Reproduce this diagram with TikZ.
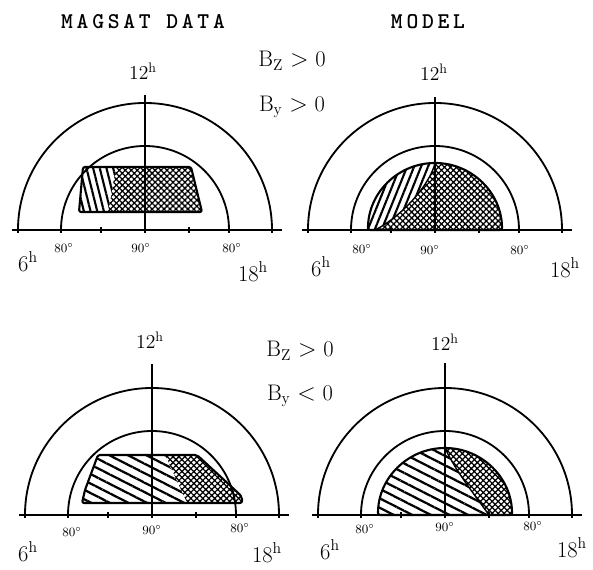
\documentclass[tikz,border=0pt]{standalone}
\usepackage{fontspec}
\usetikzlibrary{patterns.meta}

\begin{document}
\begin{tikzpicture}[x=0.025cm,y=0.025cm,
  ring/.style={line width=1.3pt},
  zone/.style={line width=1.5pt,rounded corners=1.5pt},
  cross/.style={pattern={Hatch[angle=45,distance=3pt,line width=0.9pt]}},
  slant/.style={fill=white,postaction={pattern={Lines[angle=#1,distance=4.6pt,line width=1.5pt]}}},
  flat/.style={fill=white,postaction={pattern={Lines[angle=#1,distance=6pt,line width=1.6pt]}}},
  ttl/.style={font=\fontsize{16}{18}\ttfamily\bfseries,inner sep=0pt},
  hr/.style={font=\fontsize{14}{16}\selectfont,inner sep=0pt},
  lbl/.style={font=\fontsize{16}{18}\selectfont,inner sep=0pt},
  deg/.style={font=\fontsize{9}{10}\selectfont,inner sep=0pt}]
  \useasboundingbox (0,0) rectangle (593,570);
  % ---- hatched zones ----
  \fill[cross] (83,403) -- (191,403) -- (202,358) -- (79,358) -- cycle;
  \fill[slant=104] (83,403) -- (117,403) .. controls (112,388) and (112,372) .. (107,358) -- (79,358) -- cycle;
  \draw[zone] (83,403) -- (191,403) -- (202,358) -- (79,358) -- cycle;
  \fill[cross] (368,340) arc[start angle=180,end angle=0,radius=67] -- cycle;
  \fill[slant=68] (368,340) arc[start angle=180,end angle=90,radius=67] .. controls (430,385) and (401,353) .. (375,340) -- cycle;
  \draw[line width=1pt] (435,407) .. controls (430,385) and (401,353) .. (375,340);
  \draw[zone] (368,340) arc[start angle=180,end angle=0,radius=67] -- cycle;
  \fill[cross] (98,115) -- (197,115) -- (235,80) -- (242,73) -- (242,67) -- (82,67) -- (85,80) -- cycle;
  \fill[flat=-27] (98,115) -- (165,115) -- (187,67) -- (82,67) -- (85,80) -- cycle;
  \draw[zone] (98,115) -- (197,115) -- (235,80) -- (242,73) -- (242,67) -- (82,67) -- (85,80) -- cycle;
  \fill[cross] (378,55) arc[start angle=180,end angle=0,radius=67] -- cycle;
  \fill[flat=-27] (378,55) arc[start angle=180,end angle=90,radius=67] .. controls (455,100) and (474,76) .. (489,55) -- cycle;
  \draw[line width=1pt] (445,122) .. controls (455,100) and (474,76) .. (489,55);
  \draw[zone] (378,55) arc[start angle=180,end angle=0,radius=67] -- cycle;
  % ---- dials ----
  \foreach \g/\cx/\cy/\vt in {a/145/340/135, b/435/340/133, c/152/55/151, d/445/55/152}{
    \coordinate (\g) at (\cx,\cy);
    \draw[ring] (\cx-127,\cy) arc[start angle=180,end angle=0,radius=127];
    \draw[ring] (\cx-84,\cy) arc[start angle=180,end angle=0,radius=84];
    \draw[ring] (\cx-133,\cy) -- (\cx+137,\cy);
    \draw[ring] (\g) -- ++(0,\vt);
    \foreach \t in {-127,-84,-44,0,44,84,127}
      \draw[line width=1pt] (\cx+\t,\cy-3) -- (\cx+\t,\cy+3);}
  % ---- labels ----
  \node[ttl] (t1) at (143,548) {M\,A\,G\,S\,A\,T\ \,D\,A\,T\,A};
  \node[ttl] (t2) at (428,548) {M\,O\,D\,E\,L};
  \node[lbl] (bz1) at (292,509) {B\textsubscript{Z} $>$ 0};
  \node[lbl] (by1) at (292,463) {B\textsubscript{y} $>$ 0};
  \node[lbl] (bz2) at (300,219) {B\textsubscript{Z} $>$ 0};
  \node[lbl] (by2) at (300,174) {B\textsubscript{y} $<$ 0};
  \foreach \g/\nx/\ny/\wx/\wy/\ex/\ey in {1/143/499/28/308/253/298, 2/434/498/321/303/565/302,
      3/150/230/28/18/267/17, 4/445/228/330/20/572/22}{
    \node[hr] (n\g) at (\nx,\ny) {12\textsuperscript{h}};
    \node[lbl] (w\g) at (\wx,\wy) {6\textsuperscript{h}};
    \node[lbl] (e\g) at (\ex,\ey) {18\textsuperscript{h}};}
  \foreach \g/\lx/\ly/\mx/\my/\rx/\ry in {1/64/322/141/322/232/322, 2/362/321/430/320/520/320,
      3/72/38/152/40/240/42, 4/365/41/445/43/533/44}{
    \node[deg] (l\g) at (\lx,\ly) {80$^\circ$};
    \node[deg] (m\g) at (\mx,\my) {90$^\circ$};
    \node[deg] (r\g) at (\rx,\ry) {80$^\circ$};}
\end{tikzpicture}
\end{document}
